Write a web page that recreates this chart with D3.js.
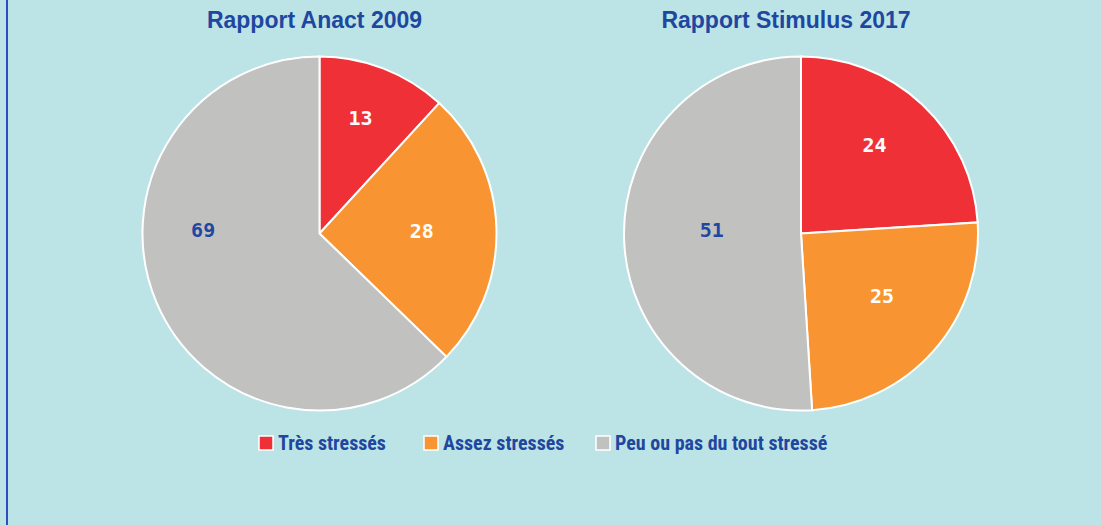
<!DOCTYPE html>
<html>
<head>
<meta charset="utf-8">
<script src="https://cdn.jsdelivr.net/npm/d3@7"></script>
<style>
  body { margin: 0; background: #bce4e6; }
  svg { display: block; }
</style>
</head>
<body>
<div id="chart"></div>
<script>
"use strict";

// data
var categories = ["Très stressés", "Assez stressés", "Peu ou pas du tout stressé"];
var titles = ["Rapport Anact 2009", "Rapport Stimulus 2017"];
var anact2009 = [13, 28, 69];
var stimulus2017 = [24, 25, 51];
var colors = ["#ef3137", "#f89532", "#c1c1c0"];
var labelColors = ["#ffffff", "#ffffff", "#1f47a0"];

var width = 1101, height = 525;
var radius = 177;

// small hand nudges for value labels (layout only), per chart, per slice
var labelNudge = [
    [[0, -10], [-11, 1], [-12, -48]],
    [[-4, -6], [-4, -13], [24, -7]]
];
// titles are not exactly centred over the pies
var titleShift = [-5, -15];

var svg = d3.select("#chart").append("svg")
    .attr("width", width)
    .attr("height", height);

svg.append("rect")
    .attr("width", width).attr("height", height)
    .attr("fill", "#bce4e6");

// thin blue border on left
svg.append("line")
    .attr("x1", 7).attr("x2", 7)
    .attr("y1", 0).attr("y2", height)
    .attr("stroke", "#2a50c0").attr("stroke-width", 2);

var pie = d3.pie().sort(null);
var arc = d3.arc().innerRadius(0).outerRadius(radius);
var labelArc = d3.arc().innerRadius(radius * 0.64).outerRadius(radius * 0.64);

var centers = [[319.5, 233.5], [801, 233.5]];
var series = [anact2009, stimulus2017];

series.forEach(function(values, i) {
    var g = svg.append("g")
        .attr("transform", `translate(${centers[i][0]}, ${centers[i][1]})`);

    g.selectAll("path")
        .data(pie(values))
        .join("path")
        .attr("d", arc)
        .attr("fill", (d, j) => colors[j])
        .attr("stroke", "#ffffff")
        .attr("stroke-width", 2);

    g.selectAll("text.val")
        .data(pie(values))
        .join("text")
        .attr("class", "val")
        .attr("transform", function(d, j) {
            var c = labelArc.centroid(d);
            return `translate(${c[0] + labelNudge[i][j][0]}, ${c[1] + labelNudge[i][j][1]})`;
        })
        .attr("text-anchor", "middle")
        .attr("dy", "0.36em")
        .attr("fill", (d, j) => labelColors[j])
        .style("font-family", "'DejaVu Sans Mono', 'Liberation Mono', monospace")
        .style("font-weight", "bold")
        .style("font-size", "20px")
        .text(d => d.data);

    svg.append("text")
        .attr("x", centers[i][0] + titleShift[i])
        .attr("y", 28)
        .attr("text-anchor", "middle")
        .attr("fill", "#1f47a0")
        .style("font-family", "'Liberation Sans', Arial, sans-serif")
        .style("font-weight", "bold")
        .style("font-size", "23px")
        .text(titles[i]);
});

// legend
var legendX = [259, 424, 596];
var legend = svg.append("g")
    .selectAll("g")
    .data(categories)
    .join("g")
    .attr("transform", (d, i) => `translate(${legendX[i]}, 436)`);

legend.append("rect")
    .attr("width", 14).attr("height", 14)
    .attr("fill", (d, i) => colors[i])
    .attr("stroke", "#ffffff")
    .attr("stroke-width", 1.5);

legend.append("text")
    .attr("x", 19)
    .attr("y", 14)
    .attr("fill", "#1f47a0")
    .style("font-family", "'Liberation Sans Narrow', 'Roboto Condensed', sans-serif")
    .style("font-weight", "bold")
    .style("font-size", "20px")
    .text(d => d);
</script>
</body>
</html>
